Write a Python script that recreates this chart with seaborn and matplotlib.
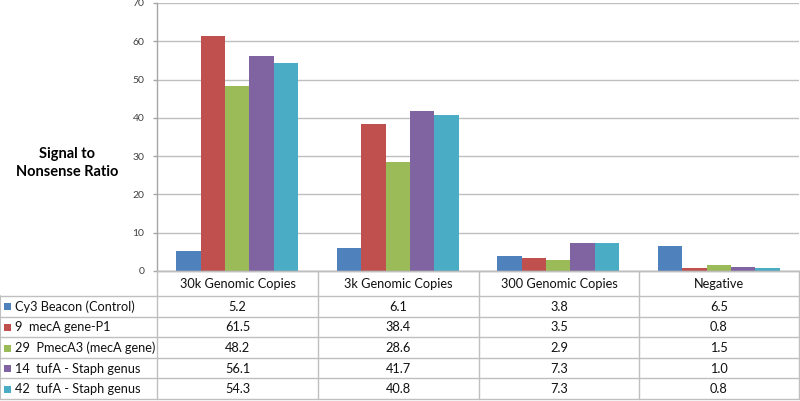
import matplotlib
matplotlib.use("Agg")
import matplotlib.pyplot as plt
import seaborn as sns
import pandas as pd
from matplotlib.patches import Rectangle

categories = ["30k Genomic Copies", "3k Genomic Copies", "300 Genomic Copies", "Negative"]
series = ["Cy3 Beacon (Control)", "9  mecA gene-P1", "29  PmecA3 (mecA gene)",
          "14  tufA - Staph genus", "42  tufA - Staph genus"]
cy3 = [5.2, 6.1, 3.8, 6.5]
meca_p1 = [61.5, 38.4, 3.5, 0.8]
pmeca3 = [48.2, 28.6, 2.9, 1.5]
tufa14 = [56.1, 41.7, 7.3, 1.0]
tufa42 = [54.3, 40.8, 7.3, 0.8]
values = [cy3, meca_p1, pmeca3, tufa14, tufa42]
colors = ["#4F81BD", "#C0504D", "#9BBB59", "#8064A2", "#4BACC6"]
y_label = "Signal to\nNonsense Ratio"

rows = []
for s, vals in zip(series, values):
    for c, v in zip(categories, vals):
        rows.append({"Category": c, "Series": s, "Value": v})
df = pd.DataFrame(rows)

sns.set_theme(style="white")
plt.rcParams['font.family'] = ['Lato', 'DejaVu Sans']

W, H = 800, 401
fig = plt.figure(figsize=(8, 4.01), dpi=100)

x0, x1 = 157, 799
ytop, ybot = 3, 271
ax = fig.add_axes([x0 / W, (H - ybot) / H, (x1 - x0) / W, (ybot - ytop) / H])
sns.barplot(data=df, x="Category", y="Value", hue="Series", order=categories,
            hue_order=series, palette=colors, width=0.76, saturation=1,
            ax=ax, legend=False, edgecolor="none")
ax.set_xlim(-0.5, 3.5)
ax.set_ylim(0, 70)
ax.set_yticks(range(0, 71, 10))
ax.set_xticks([])
ax.set_xlabel("")
ax.set_ylabel("")
ax.yaxis.grid(True, color="#BFBFBF", linewidth=1)
ax.set_axisbelow(True)
for sp in ["top", "right"]:
    ax.spines[sp].set_visible(False)
for sp in ["left", "bottom"]:
    ax.spines[sp].set_color("#A6A6A6")
    ax.spines[sp].set_linewidth(1)
ax.tick_params(axis="y", length=3, width=1, color="#A6A6A6", labelsize=7.5,
               labelcolor="#404040", left=True, pad=6)

fig.text(67 / W, 1 - 163 / H, y_label, ha="center", va="center",
         fontsize=10.5, fontweight="bold", color="#000000", linespacing=1.3)

# table drawn in pixel coordinates
tax = fig.add_axes([0, 0, 1, 1])
tax.set_xlim(0, W)
tax.set_ylim(H, 0)
tax.axis("off")
lc = "#BFBFBF"
col_edges = [0, 157, 318, 479, 639, 799]
row_edges = [271, 296, 316.6, 337.2, 357.8, 378.4, 399]
tax.plot([157, 799], [row_edges[0], row_edges[0]], color=lc, lw=1)
for y in row_edges[1:]:
    tax.plot([0, 799], [y, y], color=lc, lw=1)
for x in col_edges[1:]:
    tax.plot([x, x], [row_edges[0], row_edges[-1]], color=lc, lw=1)
tax.plot([0, 0], [row_edges[1], row_edges[-1]], color=lc, lw=1.5)

fs = 9.2
tc = "#111111"
for j, c in enumerate(categories):
    cx = (col_edges[j + 1] + col_edges[j + 2]) / 2
    tax.text(cx, (row_edges[0] + row_edges[1]) / 2 + 1, c, ha="center", va="center",
             fontsize=fs, color=tc)
for i, (s, vals, col) in enumerate(zip(series, values, colors)):
    cy = (row_edges[i + 1] + row_edges[i + 2]) / 2 + 0.5
    tax.add_patch(Rectangle((4, cy - 3.5), 7, 7, color=col, lw=0))
    tax.text(15, cy, s, ha="left", va="center", fontsize=fs, color=tc)
    for j, v in enumerate(vals):
        cx = (col_edges[j + 1] + col_edges[j + 2]) / 2
        tax.text(cx, cy, f"{v:.1f}", ha="center", va="center", fontsize=fs, color=tc)

fig.savefig("out.png", dpi=100)
